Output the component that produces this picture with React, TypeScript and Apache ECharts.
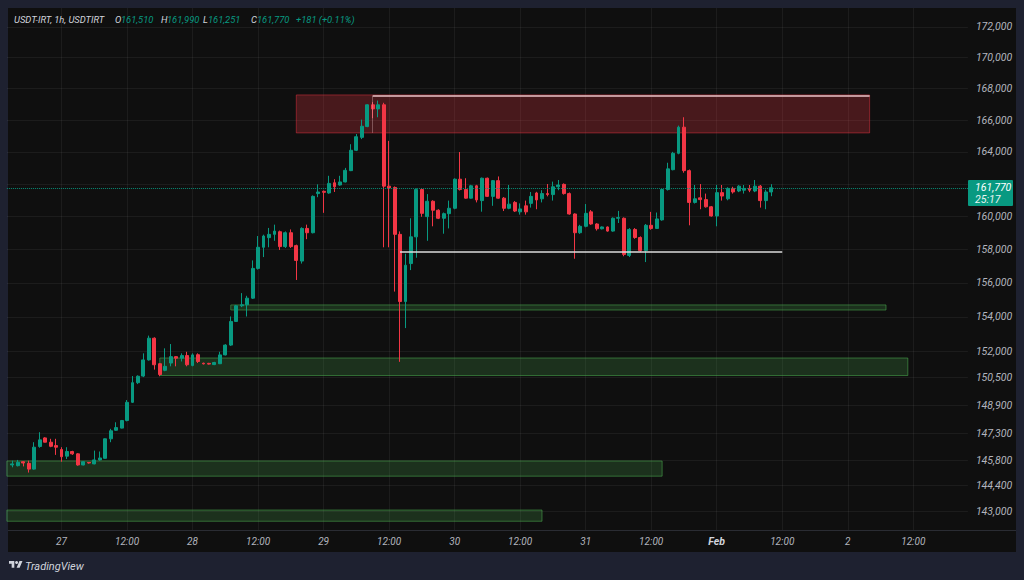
import React, { useEffect, useRef } from "react";
import * as echarts from "echarts";

// ---- time axis (hours relative to 27 Jan 00:00) ----
const AXIS_START_HOUR = -10;
const AXIS_END_HOUR = 166;
const FIRST_CANDLE_HOUR = -9;
const dayTickHours = [0, 24, 48, 72, 96, 120, 144];
const dayTickLabels = ["27", "28", "29", "30", "31", "Feb", "2"];
const halfDayLabel = "12:00";

// ---- price axis (log scale) ----
const priceTicks = [172000, 170000, 168000, 166000, 164000, 162000, 160000, 158000, 156000, 154000, 152000, 150500, 148900, 147300, 145800, 144400, 143000];
const hiddenPriceLabels = [162000]; // covered by the last-price badge
const priceMin = 141975;
const priceMax = 173250;

// ---- OHLC (1h candles, from 26 Jan 15:00) ----
const opens = [
  145540, 145500, 145720, 145630, 145310, 146570, 147050, 146810, 146620, 146400,
  146030, 146290, 146160, 145540, 145680, 145600, 145820, 145910, 147000, 147480,
  147600, 148030, 149060, 150180, 150560, 151490, 152750, 151270, 150890, 151310,
  151680, 151590, 151740, 151170, 151790, 151300, 151290, 151220, 151270, 151780,
  152350, 153730, 154650, 154710, 155100, 156870, 158140, 158720, 158920, 159080,
  158180, 159020, 158240, 157310, 159280, 159020, 161410, 161550, 161450, 162080,
  161940, 162130, 162830, 164100, 164910, 165590, 166970, 166710, 166970, 161870,
  161790, 158920, 154900, 157160, 158770, 161660, 160000, 160940, 160390, 159900,
  160180, 160510, 162300, 161660, 161130, 161890, 160980, 162360, 161240, 162210,
  161130, 160510, 160870, 160290, 160660, 160810, 161450, 161090, 161410, 161350,
  161830, 161980, 161410, 160160, 159020, 159410, 160290, 159550, 159260, 159370,
  159120, 159900, 159900, 157650, 159220, 158730, 157940, 159470, 159280, 159800,
  161660, 162890, 163910, 165550, 162830, 160870, 161150, 161040, 160600, 160040,
  161470, 161090, 161730, 161570, 161620, 161730, 161570, 161870, 160980, 161510,
];
const highs = [
  145780, 145820, 145740, 145780, 146810, 147370, 147090, 147000, 147000, 146530,
  146530, 146330, 146200, 145740, 145700, 146340, 146290, 147020, 147560, 147930,
  148060, 149190, 150560, 150600, 151870, 152900, 152800, 151300, 152160, 152410,
  151700, 151870, 151960, 151870, 151870, 151330, 151320, 151380, 151960, 152400,
  154020, 154700, 155400, 155240, 157350, 158820, 158900, 159310, 159510, 159150,
  159100, 159220, 158300, 159350, 159510, 161300, 161980, 161600, 162510, 162300,
  162510, 163000, 164480, 165120, 166030, 167000, 167140, 167240, 167100, 164690,
  161850, 159100, 157750, 159900, 161730, 161730, 161380, 161000, 160450, 160250,
  160980, 162350, 163990, 162360, 161950, 161950, 162400, 162400, 162250, 162470,
  161200, 161940, 160950, 160810, 160980, 161510, 161520, 161620, 162000, 162150,
  162250, 162040, 161480, 160200, 159500, 160770, 160400, 159600, 159400, 159400,
  159950, 160350, 159950, 159300, 159300, 158800, 159550, 160290, 160250, 161700,
  163320, 164000, 165650, 166180, 162900, 161940, 162000, 161410, 160650, 161940,
  161940, 161800, 161830, 161930, 161940, 161940, 162250, 161940, 161650, 161990,
];
const lows = [
  145410, 145460, 145460, 145120, 145280, 146500, 146800, 146530, 146100, 145720,
  145870, 146100, 145500, 145520, 145620, 145580, 145780, 145900, 146810, 147450,
  147580, 147980, 149020, 150100, 150500, 151450, 150930, 150550, 150840, 151120,
  151120, 151400, 151120, 151120, 151310, 151230, 151220, 151190, 151250, 151750,
  152300, 153700, 154570, 154020, 155050, 156800, 157550, 158140, 158530, 157980,
  158100, 158100, 156180, 157160, 158630, 158980, 161190, 160230, 161400, 161510,
  161900, 162100, 162800, 164050, 164800, 165550, 166120, 166180, 158140, 158140,
  155490, 151380, 153340, 156770, 157510, 159990, 158530, 159410, 159850, 158960,
  159280, 160450, 161600, 161100, 161100, 160870, 160300, 161200, 160660, 161100,
  160340, 160450, 160280, 160120, 160120, 160550, 160450, 160870, 161240, 160980,
  161620, 161350, 160120, 157450, 158950, 159350, 159500, 159150, 159220, 159080,
  159080, 159610, 157600, 157550, 158650, 157840, 157250, 159200, 159250, 159750,
  161600, 162850, 163850, 162700, 159470, 160800, 160450, 160550, 160000, 159410,
  160980, 161000, 161410, 161500, 161410, 161500, 161500, 160550, 160450, 161251,
];
const closes = [
  145600, 145690, 145650, 145310, 146530, 146940, 146810, 146580, 146530, 146000,
  146290, 146160, 145540, 145720, 145650, 145820, 145930, 147000, 147450, 147630,
  148030, 149060, 150180, 150550, 151490, 152750, 151210, 150650, 151120, 151680,
  151590, 151740, 151210, 151780, 151400, 151260, 151250, 151340, 151780, 152350,
  153730, 154650, 154710, 155100, 156870, 158140, 158820, 158920, 159120, 158180,
  159020, 158180, 157350, 159280, 159020, 161240, 161510, 161490, 162040, 161830,
  162130, 162850, 164100, 164950, 165610, 166970, 166710, 166970, 161870, 161760,
  158920, 154900, 157060, 158770, 161660, 160200, 160940, 160390, 159900, 160180,
  160510, 162300, 161660, 161130, 161890, 161020, 162360, 161240, 162210, 161130,
  160510, 160760, 160340, 160470, 160290, 161240, 161020, 161410, 161350, 161830,
  161940, 161410, 160160, 159020, 159410, 160200, 159550, 159260, 159370, 159120,
  159900, 159940, 157710, 159220, 158730, 157940, 159470, 159280, 159860, 161660,
  162940, 163910, 165550, 162830, 160870, 161090, 161040, 160600, 160040, 161470,
  161260, 161730, 161510, 161870, 161730, 161620, 161870, 160980, 161510, 161770,
];

// ---- drawn zones (hour from, hour to, price top, price bottom) ----
const supplyZone = [43, 148, 167600, 165190];
const supplyInner = [57, 148, 167550, 165190];
const demandZones = [
  [31, 151, 154700, 154400],
  [18, 155, 151600, 150590],
  [-10, 110, 145760, 144920],
  [-10, 88, 143060, 142450],
];
const levelLine = [62, 132, 157860];
const lastPrice = 161770;
const countdown = "25:17";

const UP = "#089981";
const DOWN = "#f23645";
const TEXT = "#b2b5be";
const FONT = "Roboto";

export default function App() {
  const ref = useRef<HTMLDivElement>(null);

  useEffect(() => {
    document.body.style.margin = "0";
    if (!ref.current) return;
    const chart = echarts.init(ref.current, undefined, { renderer: "svg" });

    echarts.graphic.registerShape(
      "tvlogo",
      echarts.graphic.extendPath("M14 22H7V11H0V4h14v18zM28 22h-8l7.5-18h8L28 22z", {})
    );

    const L = Math.log;
    const cats: string[] = [];
    for (let h = AXIS_START_HOUR; h <= AXIS_END_HOUR; h++) cats.push(String(h));

    const candleData = opens.map((o, i) => [
      String(FIRST_CANDLE_HOUR + i),
      L(o),
      L(closes[i]),
      L(lows[i]),
      L(highs[i]),
    ]);

    const isTick = (_: number, v: string) => Number(v) % 12 === 0;

    const zoneArea = (z: number[], fill: string, border: string) => [
      { xAxis: String(z[0]), yAxis: L(z[2]), itemStyle: { color: fill, borderColor: border, borderWidth: 1 } },
      { xAxis: String(z[1]), yAxis: L(z[3]) },
    ];

    const txt = (x: number, y: number, text: string, fill: string, size = 10.5, extra: any = {}) => ({
      type: "text",
      x,
      y,
      z: 100,
      style: {
        text,
        fill,
        fontSize: size,
        fontFamily: FONT,
        fontStyle: "italic",
        verticalAlign: "middle",
        ...extra,
      },
    });

    const option: any = {
      animation: false,
      backgroundColor: "#1e2130",
      grid: { left: 6.9, right: 1024 - 967.9, top: 8, bottom: 50, containLabel: false },
      xAxis: {
        type: "category",
        data: cats,
        boundaryGap: false,
        axisLine: { show: false },
        axisTick: { show: false },
        axisLabel: {
          interval: isTick,
          margin: 6,
          color: TEXT,
          fontSize: 10,
          fontFamily: FONT,
          fontStyle: "italic",
          formatter: (v: string) => {
            const h = Number(v);
            const k = dayTickHours.indexOf(h);
            if (k >= 0) return dayTickLabels[k] === "Feb" ? "{m|Feb}" : dayTickLabels[k];
            return halfDayLabel;
          },
          rich: { m: { color: "#d1d4dc", fontSize: 10.5, fontWeight: "bold", fontFamily: FONT, fontStyle: "italic" } },
        },
        splitLine: { show: true, interval: isTick, lineStyle: { color: "rgba(255,255,255,0.055)", width: 1 } },
      },
      yAxis: {
        type: "value",
        position: "right",
        min: L(priceMin),
        max: L(priceMax),
        axisLine: { show: false },
        axisTick: { show: false, customValues: priceTicks.map(L) },
        axisLabel: {
          customValues: priceTicks.filter((p) => hiddenPriceLabels.indexOf(p) < 0).map(L),
          margin: 8,
          color: TEXT,
          fontSize: 10.5,
          fontFamily: FONT,
          fontStyle: "italic",
          formatter: (v: number) => (Math.round(Math.exp(v) / 100) * 100).toLocaleString("en-US"),
        },
        splitLine: { show: true, customValues: priceTicks.map(L), lineStyle: { color: "rgba(255,255,255,0.055)", width: 1 } },
      },
      series: [
        {
          type: "candlestick",
          z: 3,
          barWidth: 3.4,
          encode: { x: 0, y: [1, 2, 3, 4] },
          data: candleData,
          itemStyle: { color: UP, color0: DOWN, borderColor: UP, borderColor0: DOWN, borderWidth: 1 },
          markArea: {
            silent: true,
            z: 1,
            data: [
              zoneArea(supplyZone, "rgba(242,54,69,0.25)", "rgba(242,54,69,0.45)"),
              ...demandZones.map((z) => zoneArea(z, "rgba(76,175,80,0.22)", "rgba(76,175,80,0.55)")),
            ],
          },
          markLine: {
            silent: true,
            symbol: "none",
            label: { show: false },
            data: [
              [
                { xAxis: String(AXIS_START_HOUR), yAxis: L(lastPrice), lineStyle: { color: UP, type: "dotted", width: 1, opacity: 0.9 } },
                { xAxis: String(AXIS_END_HOUR), yAxis: L(lastPrice) },
              ],
              [
                { xAxis: String(levelLine[0]), yAxis: L(levelLine[2]), lineStyle: { color: "#dcdcdc", type: "solid", width: 1.5 } },
                { xAxis: String(levelLine[1]), yAxis: L(levelLine[2]) },
              ],
              [
                { xAxis: String(supplyInner[0]), yAxis: L(supplyInner[2]), lineStyle: { color: "#e9c3c7", type: "solid", width: 1.5 } },
                { xAxis: String(supplyInner[1]), yAxis: L(supplyInner[2]) },
              ],
              [
                { xAxis: String(supplyInner[0]), yAxis: L(supplyInner[2]), lineStyle: { color: "rgba(233,195,199,0.35)", type: "solid", width: 1 } },
                { xAxis: String(supplyInner[0]), yAxis: L(supplyInner[3]) },
              ],
            ],
          },
        },
      ],
      graphic: [
        { type: "rect", z: -1, shape: { x: 8, y: 8, width: 1008, height: 544 }, style: { fill: "#0f0f0f" } },
        { type: "line", z: 5, shape: { x1: 8, y1: 530.5, x2: 1016, y2: 530.5 }, style: { stroke: "#2a2c33", lineWidth: 1 } },
        // header
        txt(14, 19, "USDT-IRT, 1h, USDTIRT", "#d1d4dc", 9.4),
        txt(115, 19, "O", "#d1d4dc", 9.4),
        txt(121, 19, "161,510", UP, 9.4),
        txt(161, 19, "H", "#d1d4dc", 9.4),
        txt(167, 19, "161,990", UP, 9.4),
        txt(203, 19, "L", "#d1d4dc", 9.4),
        txt(208, 19, "161,251", UP, 9.4),
        txt(251, 19, "C", "#d1d4dc", 9.4),
        txt(257, 19, "161,770", UP, 9.4),
        txt(296, 19, "+181 (+0.11%)", UP, 9.4),
        // last price badge
        { type: "rect", z: 99, shape: { x: 968, y: 180, width: 45, height: 26, r: 1 }, style: { fill: UP } },
        txt(975, 187, "161,770", "#ffffff", 10.5),
        txt(975, 199, countdown, "#e8f5f2", 10.5),
        // footer logo
        { type: "tvlogo", z: 100, x: 9, y: 559.5, scaleX: 0.38, scaleY: 0.38, style: { fill: "#d1d4dc" } },
        { type: "circle", z: 100, shape: { cx: 9 + 20 * 0.38, cy: 559.5 + 8 * 0.38, r: 4 * 0.38 }, style: { fill: "#d1d4dc" } },
        txt(25, 566, "TradingView", "#d1d4dc", 11),
      ],
    };

    chart.setOption(option);
    return () => chart.dispose();
  }, []);

  return (
    <div
      ref={ref}
      style={{ position: "fixed", left: 0, top: 0, width: 1024, height: 580 }}
    />
  );
}
